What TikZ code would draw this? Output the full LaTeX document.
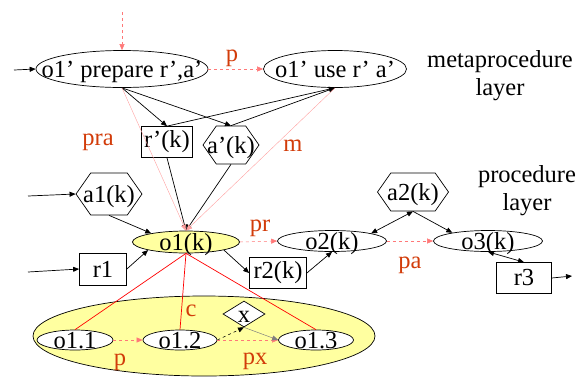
\documentclass[tikz,border=0pt]{standalone}
\usepackage{fontspec}
\setmainfont{Liberation Serif}
\usetikzlibrary{arrows.meta,shapes.geometric,shapes.symbols}
\definecolor{lblred}{RGB}{210,60,10}
\definecolor{seqred}{RGB}{255,120,120}
\definecolor{faintred}{RGB}{255,160,160}
\definecolor{objyellow}{RGB}{255,255,160}
\newcommand{\inside}[1]{\makebox[0pt]{\raisebox{-.33em}[0pt][0pt]{#1}}}
\tikzset{
	proc/.style={ellipse, draw, line width=0.7pt, inner sep=0pt},
	res/.style={rectangle, draw, line width=0.7pt, inner sep=0pt},
	act/.style={signal, signal to=east and west, signal pointer angle=110, draw=black, line width=0.7pt, inner sep=0pt},
	lbl/.style={text=lblred},
	dep/.style={-{Triangle[length=6pt,width=5pt]}, line width=0.7pt},
	seq/.style={-{Triangle[length=6pt,width=5pt]}, seqred, dashed, line width=0.5pt},
	cmp/.style={red, line width=0.7pt}
}
\begin{document}
\begin{tikzpicture}[x=1pt,y=-1pt,font=\fontsize{24.5}{28}\selectfont]
		\useasboundingbox (0,0) rectangle (578,376);
		\node[ellipse, draw, line width=0.7pt, fill=objyellow, minimum width=342pt, minimum height=80pt] (o1grp) at (204,336) {};
		\node[proc, minimum width=172pt, minimum height=37pt] (prep) at (122,69) {\inside{o1' prepare r',a'}};
		\node[proc, minimum width=143pt, minimum height=37pt] (use) at (335,69) {\inside{o1' use r' a'}};
		\node[res, minimum width=51pt, minimum height=31pt] (rp) at (167,142) {r'(k)};
		\node[act, minimum width=56pt, minimum height=38pt] (ap) at (231,145) {\inside{a'(k)}};
		\node[proc, fill=objyellow, minimum width=107pt, minimum height=22pt] (o1) at (186,242) {\inside{o1(k)}};
		\node[act, minimum width=66pt, minimum height=42pt] (a1) at (109,194) {\inside{a1(k)}};
		\node[res, minimum width=47pt, minimum height=32pt] (r1) at (103,269) {r1};
		\node[res, minimum width=57pt, minimum height=31pt] (r2) at (278,273) {r2(k)};
		\node[proc, minimum width=109pt, minimum height=21pt] (o2) at (332,241) {\inside{o2(k)}};
		\node[act, minimum width=71pt, minimum height=38pt] (a2) at (413,192) {\inside{a2(k)}};
		\node[proc, minimum width=109pt, minimum height=21pt] (o3) at (488,241) {\inside{o3(k)}};
		\node[res, minimum width=55pt, minimum height=31pt] (r3) at (524,278) {r3};
		\node[proc, fill=white, minimum width=76pt, minimum height=20pt] (o11) at (75,340) {\inside{o1.1}};
		\node[proc, fill=white, minimum width=74pt, minimum height=20pt] (o12) at (180,340) {\inside{o1.2}};
		\node[proc, fill=white, minimum width=75pt, minimum height=20pt] (o13) at (316,340) {\inside{o1.3}};
		\node[diamond, draw, line width=0.7pt, fill=white, inner sep=0pt, minimum width=42pt, minimum height=26pt] (x) at (244,314) {\inside{x}};
		\coordinate (topin) at (122,12);
		\coordinate (prepin) at (14,70);
		\coordinate (a1in) at (28,196);
		\coordinate (r1in) at (28,272);
		\coordinate (r3out) at (572,276);
		\draw[seq] (topin) -- (prep.north);
		\draw[dep] (prepin) -- (prep.west);
		\draw[seq] (prep.east) -- (use.west);
		\draw[dep] (prep.south) -- (rp.north);
		\draw[dep] (prep.south) -- (ap.north);
		\draw[dep] (rp.north) -- (use.south);
		\draw[dep] (ap.north) -- (use.south);
		\draw[dep] (rp.south) -- (o1.north);
		\draw[dep] (ap.south) -- (o1.north);
		\draw[-{Triangle[length=6pt,width=5pt]}, faintred, line width=0.4pt] (prep.south) -- (o1.north);
		\draw[-{Triangle[length=6pt,width=5pt]}, faintred, line width=0.4pt] (use.south) -- (o1.north);
		\draw[dep] (a1in) -- (a1.west);
		\draw[dep] (r1in) -- (r1.west);
		\draw[dep] (a1.south) -- (o1.166);
		\draw[dep] (r1.east) -- (o1.192);
		\draw[dep] (o1.-12) -- (r2.west);
		\draw[dep] (r2.east) -- (o2.south);
		\draw[seq] (o1.east) -- (o2.west);
		\draw[seq] (o2.east) -- (o3.west);
		\draw[dep, {Triangle[length=6pt,width=5pt]}-{Triangle[length=6pt,width=5pt]}] (a2.south) -- (o2.11);
		\draw[dep] (a2.south) -- (o3.167);
		\draw[dep, {Triangle[length=6pt,width=5pt]}-{Triangle[length=6pt,width=5pt]}] (o3.south) -- (r3.north);
		\draw[dep] (r3.east) -- (r3out);
		\draw[cmp] (o1.south) -- (o11.north);
		\draw[cmp] (o1.south) -- (o12.north);
		\draw[cmp] (o1.south) -- (o13.north);
		\draw[seq] (o11.east) -- (o12.west);
		\draw[seq] (o12.east) -- (o13.west);
		\draw[dep, dashed, line width=0.5pt] (o12.east) -- (x.south);
		\draw[-{Triangle[length=6pt,width=5pt]}, gray, line width=0.5pt] (x.south) -- (o13.west);
		\node[lbl] (lp) at (232,58) {p};
		\node[lbl] (lpra) at (98,142) {pra};
		\node[lbl] (lm) at (293,146) {m};
		\node[lbl] (lpr) at (260,228) {pr};
		\node[lbl] (lpa) at (410,265) {pa};
		\node[lbl] (lc) at (191,311) {c};
		\node[lbl] (lp2) at (120,362) {p};
		\node[lbl] (lpx) at (255,361) {px};
		\node[align=center] (meta) at (500,76) {metaprocedure\\layer};
		\node[align=center] (procl) at (527,191) {procedure\\layer};
\end{tikzpicture}
\end{document}
